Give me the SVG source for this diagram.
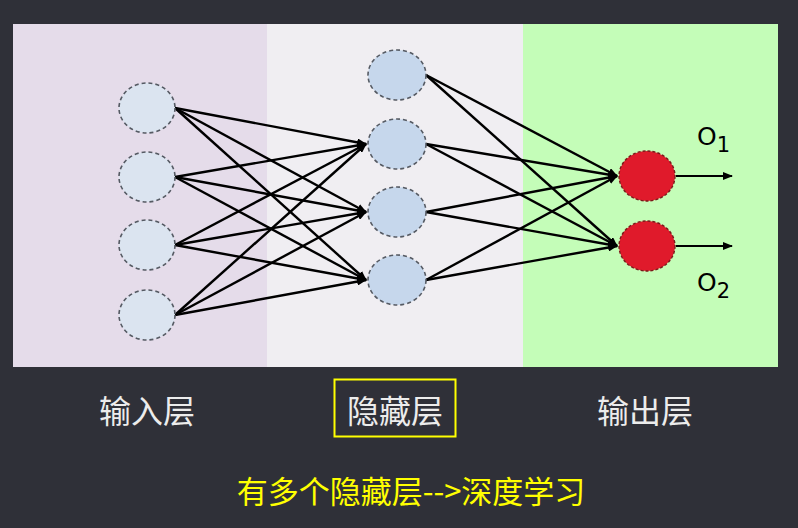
<svg xmlns="http://www.w3.org/2000/svg" width="798" height="528" viewBox="0 0 798 528">
<defs>
<marker id="ah" markerWidth="10" markerHeight="8" refX="9" refY="4" orient="auto" markerUnits="userSpaceOnUse">
<path d="M0,0 L10,4 L0,8 Z" fill="#000"/>
</marker>
<style>
.in{fill:#dbe4f0;stroke:#555a63;stroke-width:1.6;stroke-dasharray:4 3}
.hid{fill:#c6d7ec;stroke:#555a63;stroke-width:1.6;stroke-dasharray:4 3}
.out{fill:#e01a2b;stroke:#7a1a1a;stroke-width:1.4;stroke-dasharray:3 2}
.ln{stroke:#000;stroke-width:2.4;fill:none;marker-end:url(#ah)}
.ol{stroke:#000;stroke-width:1.8;fill:none;marker-end:url(#ah)}
.lab{font-family:"Noto Sans CJK SC",sans-serif;font-size:32px;fill:#ececec;text-anchor:middle}
.yl{font-family:"Noto Sans CJK SC",sans-serif;font-size:31px;fill:#ffff00;text-anchor:middle}
.o{font-family:"DejaVu Sans",sans-serif;font-size:25px;fill:#000}
</style>
</defs>
<rect width="798" height="528" fill="#2f3038"/>
<g id="panels">
<rect x="13" y="24" width="254" height="343" fill="#e5dcea"/>
<rect x="267" y="24" width="256" height="343" fill="#f0eef2"/>
<rect x="523" y="24" width="255" height="343" fill="#c4fdb8"/>
</g>
<g id="connectors">
<line class="ln" x1="175" y1="108" x2="366" y2="144"/>
<line class="ln" x1="175" y1="108" x2="366" y2="212"/>
<line class="ln" x1="175" y1="108" x2="366" y2="280"/>
<line class="ln" x1="175" y1="177" x2="366" y2="144"/>
<line class="ln" x1="175" y1="177" x2="366" y2="212"/>
<line class="ln" x1="175" y1="177" x2="366" y2="280"/>
<line class="ln" x1="175" y1="245" x2="366" y2="144"/>
<line class="ln" x1="175" y1="245" x2="366" y2="212"/>
<line class="ln" x1="175" y1="245" x2="366" y2="280"/>
<line class="ln" x1="175" y1="315" x2="366" y2="144"/>
<line class="ln" x1="175" y1="315" x2="366" y2="212"/>
<line class="ln" x1="175" y1="315" x2="366" y2="280"/>
<line class="ln" x1="426" y1="75" x2="617" y2="176"/>
<line class="ln" x1="426" y1="75" x2="617" y2="246"/>
<line class="ln" x1="426" y1="144" x2="617" y2="176"/>
<line class="ln" x1="426" y1="144" x2="617" y2="246"/>
<line class="ln" x1="426" y1="212" x2="617" y2="176"/>
<line class="ln" x1="426" y1="212" x2="617" y2="246"/>
<line class="ln" x1="426" y1="280" x2="617" y2="176"/>
<line class="ln" x1="426" y1="280" x2="617" y2="246"/>
<line class="ol" x1="676" y1="176" x2="732" y2="176"/>
<line class="ol" x1="676" y1="246" x2="732" y2="246"/>
</g>
<g id="in1"><ellipse class="in" cx="147" cy="108" rx="28" ry="25"/></g>
<g id="in2"><ellipse class="in" cx="147" cy="177" rx="28" ry="25"/></g>
<g id="in3"><ellipse class="in" cx="147" cy="245" rx="28" ry="25"/></g>
<g id="in4"><ellipse class="in" cx="147" cy="315" rx="28" ry="25"/></g>
<g id="h1"><ellipse class="hid" cx="397" cy="75" rx="29" ry="25"/></g>
<g id="h2"><ellipse class="hid" cx="397" cy="144" rx="29" ry="25"/></g>
<g id="h3"><ellipse class="hid" cx="397" cy="212" rx="29" ry="25"/></g>
<g id="h4"><ellipse class="hid" cx="397" cy="280" rx="29" ry="25"/></g>
<g id="o1"><ellipse class="out" cx="647" cy="176" rx="28" ry="25"/></g>
<g id="o2"><ellipse class="out" cx="647" cy="246" rx="28" ry="25"/></g>
<g id="outlabels">
<text class="o" x="697" y="145">O<tspan font-size="21" dy="7">1</tspan></text>
<text class="o" x="697" y="291">O<tspan font-size="21" dy="7">2</tspan></text>
</g>
<g id="labels">
<text class="lab" x="147" y="423">输入层</text>
<rect x="334.5" y="379.5" width="121" height="57" fill="none" stroke="#ffff00" stroke-width="2"/>
<text class="lab" x="395" y="423">隐藏层</text>
<text class="lab" x="645" y="423">输出层</text>
<text class="yl" x="411" y="503">有多个隐藏层--&gt;深度学习</text>
</g>
</svg>
